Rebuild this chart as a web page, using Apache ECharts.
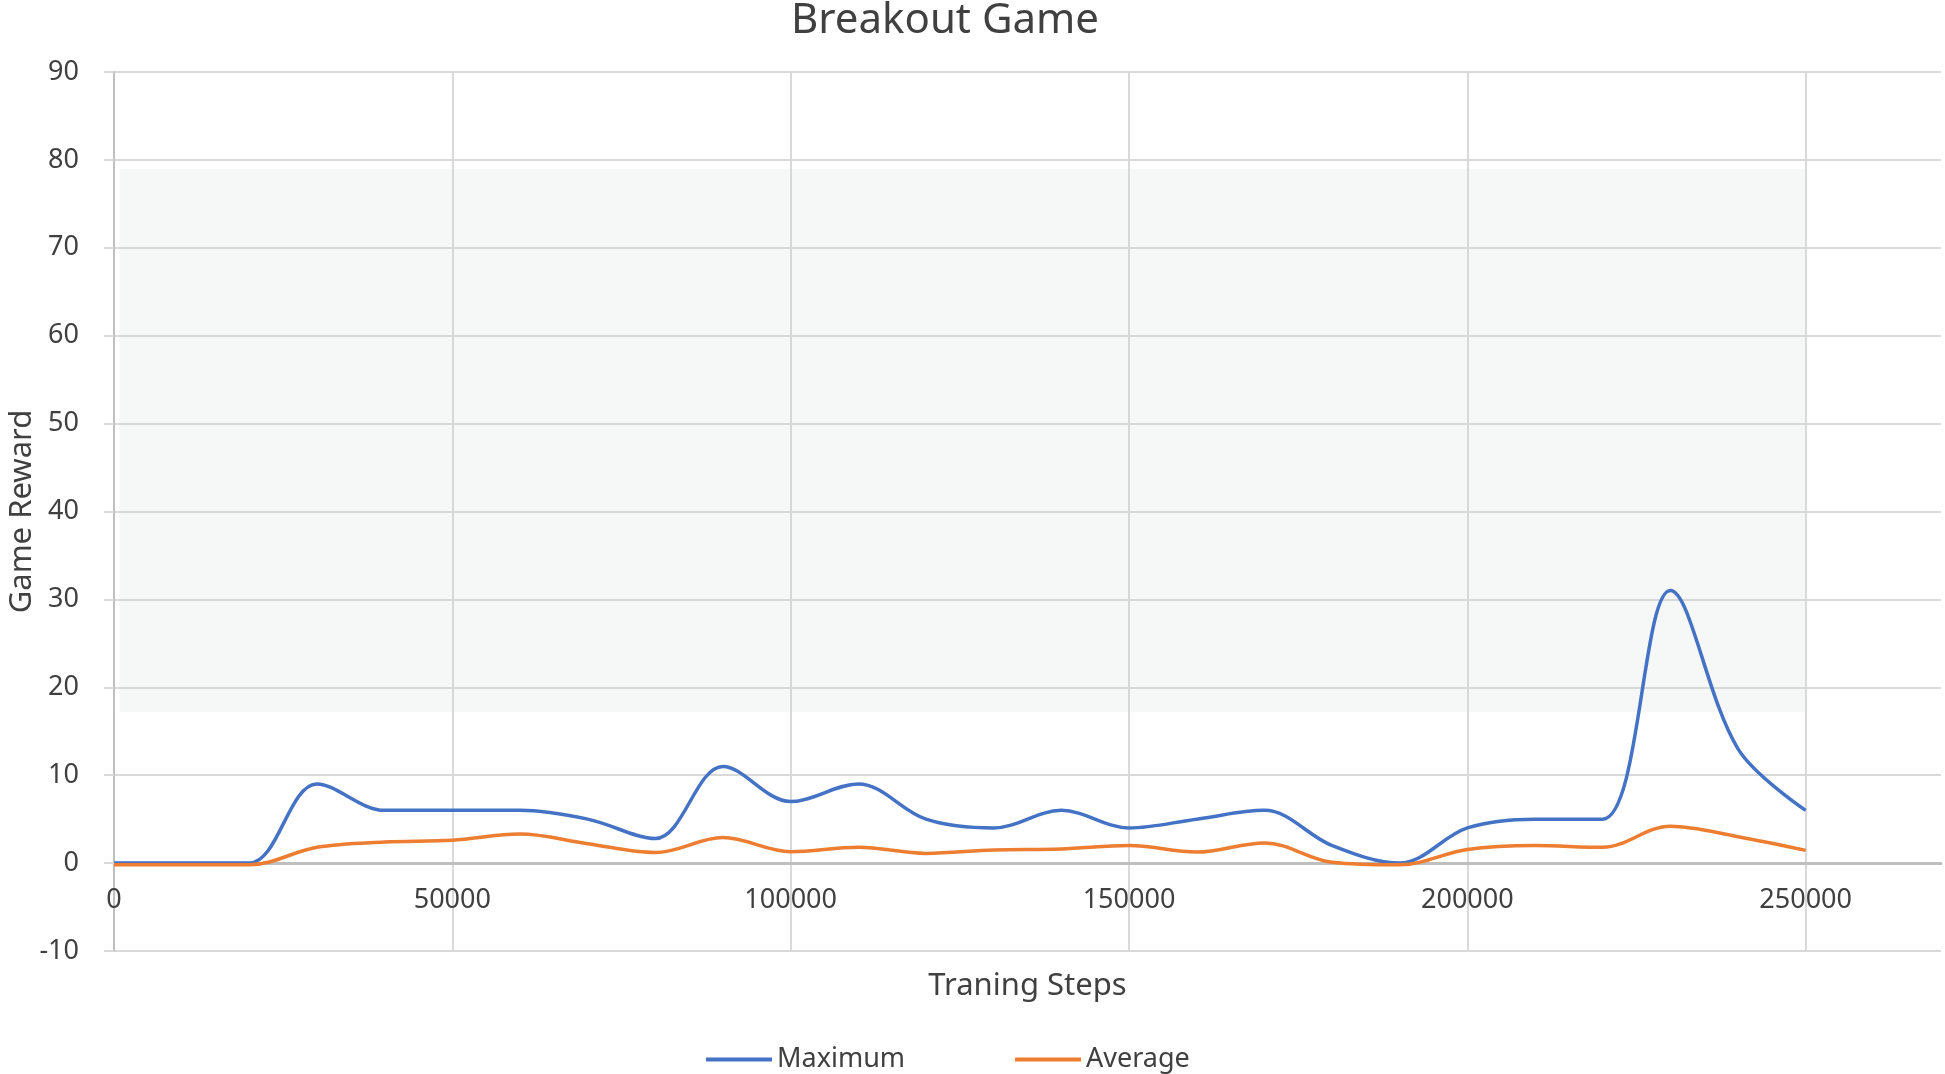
<!DOCTYPE html>
<html>
<head>
<meta charset="utf-8">
<title>Breakout Game</title>
<script src="https://cdn.jsdelivr.net/npm/echarts@6/dist/echarts.min.js"></script>
<style>
  html, body { margin: 0; padding: 0; background: #fff; }
  #main { width: 1945px; height: 1074px; }
</style>
</head>
<body>
<div id="main"></div>
<script>
// training steps and rewards
var steps = [0, 10000, 20000, 30000, 40000, 50000, 60000, 70000, 80000, 90000,
             100000, 110000, 120000, 130000, 140000, 150000, 160000, 170000, 180000, 190000,
             200000, 210000, 220000, 230000, 240000, 250000];
var maximum = [0, 0, 0, 9, 6, 6, 6, 5, 2.8, 11,
               7, 9, 5, 4, 6, 4, 5, 6, 2, 0,
               4, 5, 5, 31, 13, 6];
var average = [-0.2, -0.2, -0.2, 1.8, 2.4, 2.6, 3.3, 2.2, 1.2, 2.9,
               1.3, 1.8, 1.1, 1.5, 1.6, 2.0, 1.25, 2.3, 0.1, -0.2,
               1.55, 2.0, 1.8, 4.2, 3.0, 1.45];
// the pale grey box behind the plot
var bandX = [800, 250000];
var bandY = [17.2, 79];

var font = "'Noto Sans', 'Open Sans', sans-serif";
var textColor = '#404040';

function pairs(xs, ys) {
    return xs.map(function (x, i) { return [x, ys[i]]; });
}

var myChart = echarts.init(document.getElementById('main'));
var option = {
    animation: false,
    backgroundColor: '#fff',
    textStyle: { fontFamily: font, color: textColor },
    title: {
        text: 'Breakout Game',
        left: 791,
        top: 0,
        padding: 0,
        textStyle: { fontFamily: font, fontSize: 42, fontWeight: 'normal', color: textColor }
    },
    legend: {
        left: 701,
        top: 1041,
        icon: 'rect',
        itemWidth: 66,
        itemHeight: 4,
        itemGap: 110,
        textStyle: { fontFamily: font, fontSize: 27, color: textColor },
        data: ['Maximum', 'Average']
    },
    grid: { left: 114, right: 4, top: 72, bottom: 123, outerBoundsMode: 'none' },
    xAxis: {
        type: 'value',
        min: 0,
        max: 270000,
        interval: 50000,
        // axis sits on the zero line, 10 units (88px) above the plot bottom
        offset: -88,
        name: 'Traning Steps',
        nameLocation: 'middle',
        nameGap: 108,
        nameMoveOverlap: false,
        nameTextStyle: { fontFamily: font, fontSize: 31, color: textColor },
        axisLine: { onZero: false, lineStyle: { color: '#bfbfbf', width: 3 } },
        axisTick: { show: false },
        axisLabel: {
            margin: 24, fontSize: 27, color: textColor, fontFamily: font, showMaxLabel: false,
            formatter: function (v) { return String(v); }
        },
        splitLine: { show: true, showMaxLine: false, lineStyle: { color: '#d9d9d9', width: 2 } }
    },
    yAxis: {
        type: 'value',
        min: -10,
        max: 90,
        interval: 10,
        name: 'Game Reward',
        nameLocation: 'middle',
        nameGap: 76,
        nameMoveOverlap: false,
        nameTextStyle: { fontFamily: font, fontSize: 31, color: textColor },
        axisLine: { show: true, lineStyle: { color: '#bfbfbf', width: 2 } },
        axisTick: { show: true, length: 10, lineStyle: { color: '#d9d9d9', width: 2 } },
        axisLabel: { margin: 35, fontSize: 27, color: textColor, fontFamily: font },
        splitLine: { show: true, lineStyle: { color: '#d9d9d9', width: 2 } }
    },
    series: [
        {
            name: 'band',
            type: 'line',
            data: [],
            silent: true,
            markArea: {
                silent: true,
                itemStyle: { color: 'rgba(210,215,215,0.2)' },
                data: [[{ coord: [bandX[0], bandY[1]] }, { coord: [bandX[1], bandY[0]] }]]
            }
        },
        {
            name: 'Maximum',
            type: 'line',
            smooth: 0.35,
            symbol: 'none',
            color: '#4472C4',
            lineStyle: { width: 3.5, color: '#4472C4' },
            data: pairs(steps, maximum)
        },
        {
            name: 'Average',
            type: 'line',
            smooth: 0.35,
            symbol: 'none',
            color: '#ED7D31',
            lineStyle: { width: 3.5, color: '#ED7D31' },
            data: pairs(steps, average)
        }
    ]
};
myChart.setOption(option);
</script>
</body>
</html>
